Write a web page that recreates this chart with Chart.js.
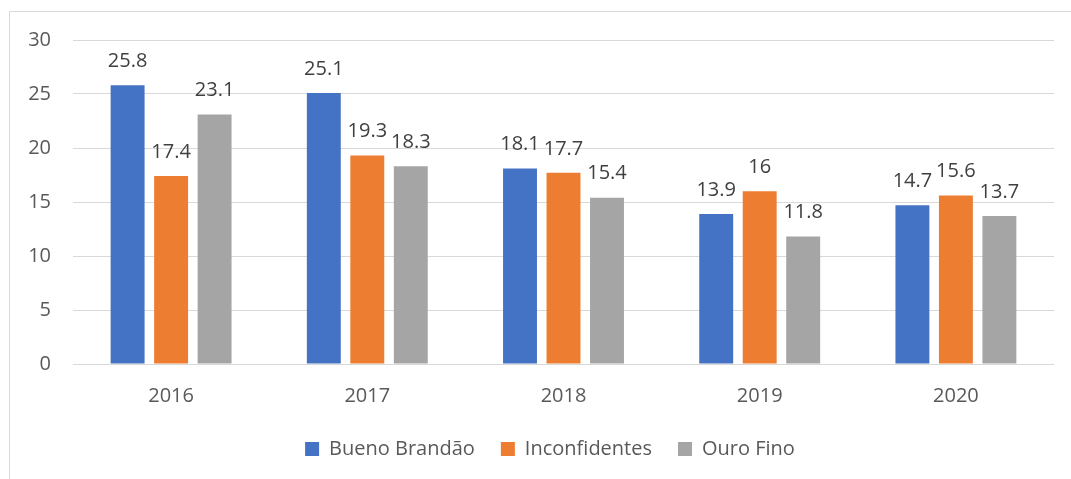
<!DOCTYPE html>
<html>
<head>
<meta charset="utf-8">
<script src="https://cdn.jsdelivr.net/npm/chart.js@4.4.0/dist/chart.umd.min.js"></script>
<style>
html,body{margin:0;padding:0;background:#fff;}
#wrap{width:1071px;height:479px;position:relative;}
</style>
</head>
<body>
<div id="wrap"><canvas id="c" width="1071" height="479"></canvas></div>
<script>
const categories = ["2016", "2017", "2018", "2019", "2020"];
const buenoBrandao = [25.8, 25.1, 18.1, 13.9, 14.7];
const inconfidentes = [17.4, 19.3, 17.7, 16, 15.6];
const ouroFino = [23.1, 18.3, 15.4, 11.8, 13.7];
const seriesNames = ["Bueno Brandão", "Inconfidentes", "Ouro Fino"];
const yTicks = [0, 5, 10, 15, 20, 25, 30];

const FONT = "'Open Sans', sans-serif";

const frame = {
  id: 'frame',
  beforeDraw(chart) {
    const ctx = chart.ctx;
    ctx.save();
    ctx.fillStyle = '#fff';
    ctx.fillRect(0, 0, chart.width, chart.height);
    ctx.strokeStyle = '#D9D9D9';
    ctx.lineWidth = 1;
    ctx.beginPath();
    ctx.moveTo(9.5, chart.height);
    ctx.lineTo(9.5, 11.5);
    ctx.lineTo(chart.width, 11.5);
    ctx.stroke();
    ctx.restore();
  }
};

const legendShift = {
  id: 'legendShift',
  afterLayout(chart) {
    const lg = chart.legend;
    if (lg) { lg.left += 23; lg.right += 23; }
  }
};

const valueLabels = {
  id: 'valueLabels',
  afterDatasetsDraw(chart) {
    const ctx = chart.ctx;
    ctx.save();
    ctx.font = "20px " + FONT;
    ctx.fillStyle = '#404040';
    ctx.textAlign = 'center';
    ctx.textBaseline = 'middle';
    chart.data.datasets.forEach((ds, i) => {
      const meta = chart.getDatasetMeta(i);
      meta.data.forEach((bar, j) => {
        ctx.fillText(String(ds.data[j]), bar.x, bar.y - 24);
      });
    });
    ctx.restore();
  }
};

new Chart(document.getElementById('c'), {
  type: 'bar',
  data: {
    labels: categories,
    datasets: [
      { label: seriesNames[0], data: buenoBrandao, backgroundColor: '#4472C4' },
      { label: seriesNames[1], data: inconfidentes, backgroundColor: '#ED7D31' },
      { label: seriesNames[2], data: ouroFino, backgroundColor: '#A5A5A5' }
    ]
  },
  options: {
    responsive: false,
    animation: false,
    devicePixelRatio: 1,
    layout: { padding: { top: 40, left: 0, right: 17, bottom: 10 } },
    datasets: { bar: { categoryPercentage: 0.665, barPercentage: 0.78 } },
    plugins: {
      tooltip: { enabled: false },
      legend: {
        position: 'bottom',
        labels: {
          boxWidth: 14, boxHeight: 14, padding: 26,
          color: '#595959',
          font: { family: FONT, size: 20 }
        }
      }
    },
    scales: {
      x: {
        grid: { display: false, drawTicks: false },
        border: { display: false },
        ticks: { color: '#595959', font: { family: FONT, size: 20 }, padding: 20 },
        afterFit(s) { s.height = 49; }
      },
      y: {
        min: 0, max: 30,
        afterBuildTicks(s) { s.ticks = yTicks.map(v => ({ value: v })); },
        grid: { color: '#D9D9D9', lineWidth: 1, drawTicks: false },
        border: { display: false },
        ticks: { color: '#595959', font: { family: FONT, size: 20 }, padding: 22 },
        afterFit(s) { s.width = 73; }
      }
    }
  },
  plugins: [frame, legendShift, valueLabels]
});
</script>
</body>
</html>
